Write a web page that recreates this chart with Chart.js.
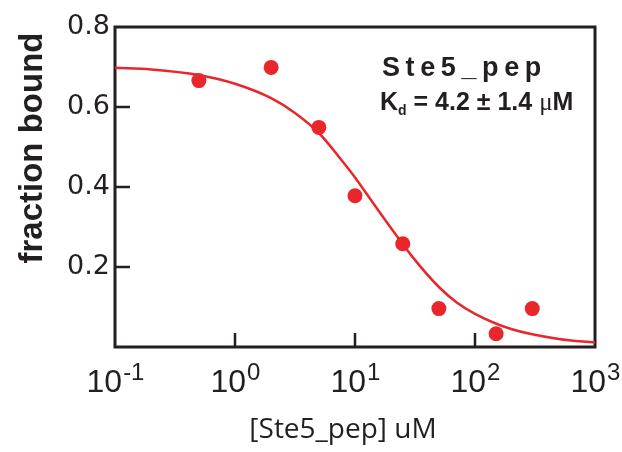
<!DOCTYPE html>
<html><head><meta charset="utf-8">
<script src="https://cdn.jsdelivr.net/npm/chart.js@4"></script>
<style>html,body{margin:0;padding:0;background:#fff;}canvas{display:block;}</style>
</head><body>
<canvas id="c" width="622" height="452"></canvas>
<script>
// ---- data ----
const concentrations = [0.5, 2, 5, 10, 25, 50, 150, 300];
const fractionBound = [0.666, 0.699, 0.549, 0.378, 0.258, 0.096, 0.033, 0.096];
const fitX = [0.1, 0.2, 0.5, 1, 2, 3.16, 5, 7.5, 10, 14, 20, 30, 50, 70, 100, 200, 500, 1000];
const fitY = [0.698, 0.694, 0.680, 0.658, 0.622, 0.585, 0.535, 0.472, 0.424, 0.362, 0.297, 0.226, 0.150, 0.112, 0.083, 0.045, 0.020, 0.011];
const xTickValues = [0.1, 1, 10, 100, 1000];
const xTickExponents = ['-1', '0', '1', '2', '3'];
const yTickValues = [0.2, 0.4, 0.6, 0.8];
const xTitle = '[Ste5_pep] uM';
const yTitle = 'fraction bound';
const seriesName = 'Ste5_pep';
const kdText = ' = 4.2 \u00b1 1.4 ';

const INK = '#231f20';
const RED = '#e8262b';

const overlay = {
  id: 'overlay',
  beforeDatasetsDraw(chart) {
    const {ctx, chartArea: a, scales: {x, y}} = chart;
    ctx.save();
    ctx.strokeStyle = INK;
    ctx.lineWidth = 3;
    ctx.strokeRect(a.left, a.top, a.right - a.left, a.bottom - a.top);
    ctx.lineWidth = 2.5;
    ctx.beginPath();
    xTickValues.forEach(v => {
      const px = x.getPixelForValue(v);
      if (px > a.left + 3 && px < a.right - 3) { ctx.moveTo(px, a.bottom); ctx.lineTo(px, a.bottom - 14); }
    });
    yTickValues.forEach(v => {
      const py = y.getPixelForValue(v);
      if (py > a.top + 3 && py < a.bottom - 3) { ctx.moveTo(a.left, py); ctx.lineTo(a.left + 15, py); }
    });
    ctx.stroke();
    ctx.restore();
  },
  afterDraw(chart) {
    const {ctx, chartArea: a, scales: {x}} = chart;
    ctx.save();
    ctx.fillStyle = INK;
    ctx.textBaseline = 'alphabetic';
    ctx.textAlign = 'left';
    // x tick labels with superscripts
    const baseFont = '32px "Liberation Sans", Arial, sans-serif';
    const expFont = '24px "Liberation Sans", Arial, sans-serif';
    xTickValues.forEach((v, i) => {
      const px = x.getPixelForValue(v);
      ctx.font = baseFont;
      const wb = ctx.measureText('10').width;
      ctx.font = expFont;
      const we = ctx.measureText(xTickExponents[i]).width;
      const x0 = px - (wb + we) / 2;
      ctx.font = baseFont;
      ctx.fillText('10', x0, a.bottom + 45);
      ctx.font = expFont;
      ctx.fillText(xTickExponents[i], x0 + wb + 1, a.bottom + 33);
    });
    // x title
    ctx.font = '28px "Open Sans", sans-serif';
    ctx.textAlign = 'center';
    ctx.fillText(xTitle, 343, 438);
    // y title
    ctx.save();
    ctx.translate(42, 148);
    ctx.rotate(-Math.PI / 2);
    ctx.font = 'bold 33px "Liberation Sans", Arial, sans-serif';
    ctx.textAlign = 'center';
    ctx.fillText(yTitle, 0, 0);
    ctx.restore();
    // annotation
    ctx.textAlign = 'left';
    ctx.font = 'bold 27px "Liberation Sans", Arial, sans-serif';
    let cx = 382;
    for (const ch of seriesName) {
      ctx.fillText(ch, cx, 76);
      cx += ctx.measureText(ch).width + 5.6;
    }
    cx = 380;
    const by = 110;
    ctx.font = 'bold 25px "Liberation Sans", Arial, sans-serif';
    ctx.fillText('K', cx, by); cx += ctx.measureText('K').width;
    ctx.font = 'bold 14px "Liberation Sans", Arial, sans-serif';
    ctx.fillText('d', cx, by + 5); cx += ctx.measureText('d').width;
    ctx.font = 'bold 25px "Liberation Sans", Arial, sans-serif';
    ctx.fillText(kdText, cx, by); cx += ctx.measureText(kdText).width;
    ctx.font = '25px "Liberation Serif", serif';
    ctx.fillText('\u03bc', cx, by); cx += ctx.measureText('\u03bc').width;
    ctx.font = 'bold 25px "Liberation Sans", Arial, sans-serif';
    ctx.fillText('M', cx, by);
    ctx.restore();
  }
};

new Chart(document.getElementById('c'), {
  type: 'scatter',
  data: {
    datasets: [
      {
        label: 'data',
        data: concentrations.map((c, i) => ({x: c, y: fractionBound[i]})),
        backgroundColor: RED,
        borderWidth: 0,
        pointRadius: 7.5,
        pointHoverRadius: 7.5
      },
      {
        label: 'fit',
        type: 'line',
        data: fitX.map((c, i) => ({x: c, y: fitY[i]})),
        borderColor: RED,
        borderWidth: 2.5,
        pointRadius: 0,
        fill: false,
        cubicInterpolationMode: 'monotone'
      }
    ]
  },
  options: {
    responsive: false,
    animation: false,
    events: [],
    layout: {padding: {top: 27, right: 27, left: 0, bottom: 0}},
    plugins: {legend: {display: false}, tooltip: {enabled: false}},
    scales: {
      x: {
        type: 'logarithmic',
        min: 0.1, max: 1000,
        grid: {display: false, drawTicks: false},
        border: {display: false},
        ticks: {display: false},
        afterFit(s) { s.height = 105; }
      },
      y: {
        min: 0, max: 0.8,
        grid: {display: false, drawTicks: false},
        border: {display: false},
        afterBuildTicks(s) { s.ticks = yTickValues.map(v => ({value: v})); },
        ticks: {
          padding: 5,
          color: INK,
          font: {family: '"DejaVu Sans", sans-serif', size: 27},
          callback: v => v.toFixed(1)
        },
        afterFit(s) { s.width = 115; }
      }
    }
  },
  plugins: [overlay]
});
</script>
</body></html>
